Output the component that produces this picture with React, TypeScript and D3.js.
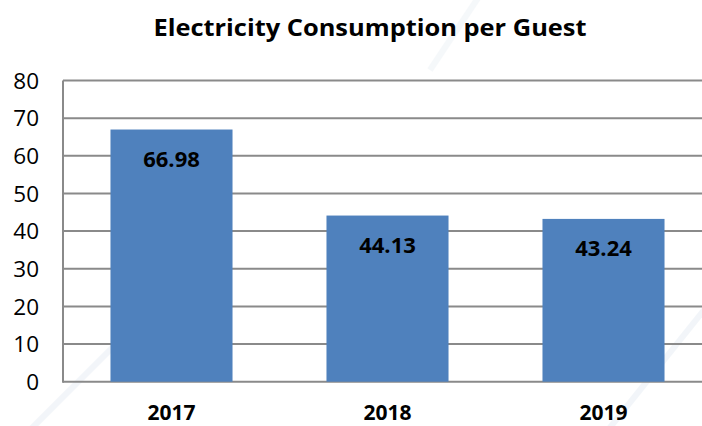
import * as d3 from 'd3';
import React from 'react';

const years = ['2017', '2018', '2019'];
const consumption = [66.98, 44.13, 43.24];
const yTicks = [0, 10, 20, 30, 40, 50, 60, 70, 80];

const W = 702;
const H = 426;
const FONT = "'Open Sans', 'Noto Sans', sans-serif";

const App = () => {
	const x = d3.scaleBand<string>()
		.domain(years)
		.range([63.5, 711.5])
		.paddingInner(0.435)
		.paddingOuter(0.2175);

	const y = d3.scaleLinear()
		.domain([0, 80])
		.range([381.7, 80.5]);

	return (
		<svg width={W} height={H} style={{ position: 'absolute', left: 0, top: 0, background: '#fff' }}>
			{/* faint reflection streaks */}
			<line x1={20} y1={440} x2={200} y2={260} stroke="#e6edf5" strokeWidth={6} opacity={0.5} />
			<line x1={600} y1={440} x2={720} y2={290} stroke="#e6edf5" strokeWidth={6} opacity={0.5} />
			<line x1={430} y1={70} x2={480} y2={-5} stroke="#edf2f7" strokeWidth={6} opacity={0.5} />

			<text x={370} y={36} textAnchor="middle" fontFamily={FONT} fontWeight="bold" fontSize={24}
				textLength={433} lengthAdjust="spacingAndGlyphs" fill="#000">
				Electricity Consumption per Guest
			</text>

			{/* grid */}
			{yTicks.map((t) => (
				<line key={t} x1={63} x2={W} y1={y(t)} y2={y(t)} stroke="#8a8a8a" strokeWidth={2} />
			))}
			<line x1={63} x2={63} y1={y(80)} y2={y(0) + 1} stroke="#8a8a8a" strokeWidth={2} />

			{/* y tick labels */}
			{yTicks.map((t) => (
				<text key={t} x={39} y={y(t)} dy="0.36em" textAnchor="end" fontFamily={FONT} fontSize={22.5} fill="#000">
					{t}
				</text>
			))}

			{/* bars */}
			{years.map((yr, i) => (
				<g key={yr}>
					<rect
						x={x(yr)}
						y={y(consumption[i])}
						width={x.bandwidth()}
						height={y(0) - y(consumption[i])}
						fill="#4f81bd"
					/>
					<text
						x={(x(yr) ?? 0) + x.bandwidth() / 2}
						y={y(consumption[i]) + 37}
						textAnchor="middle"
						fontFamily={FONT}
						fontWeight="bold"
						fontSize={22}
						fill="#000"
					>
						{consumption[i].toFixed(2)}
					</text>
					<text
						x={(x(yr) ?? 0) + x.bandwidth() / 2}
						y={420}
						textAnchor="middle"
						fontFamily={FONT}
						fontWeight="bold"
						fontSize={21}
						fill="#000"
					>
						{yr}
					</text>
				</g>
			))}
		</svg>
	);
};

export default App;
